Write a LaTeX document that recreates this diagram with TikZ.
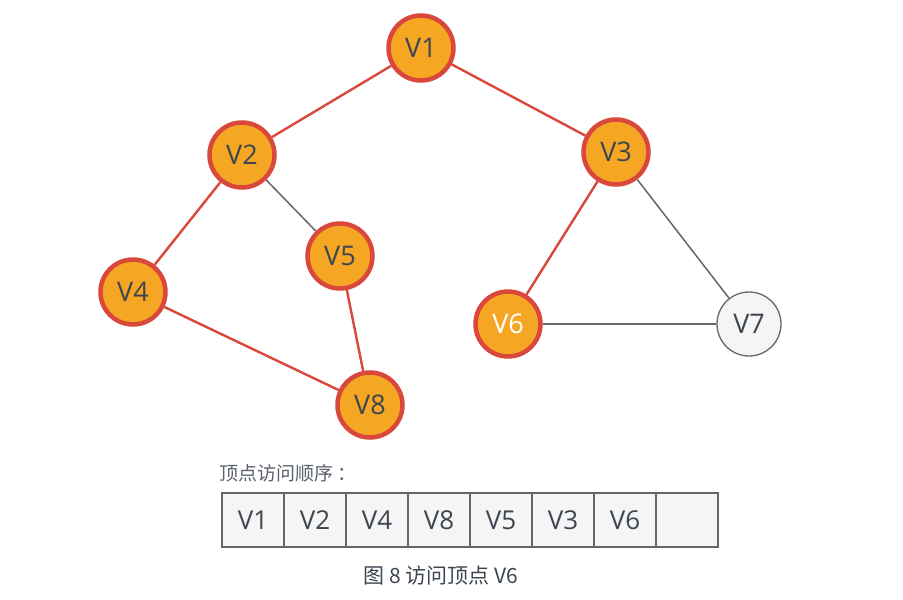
\documentclass[tikz,border=0pt]{standalone}
\usepackage{fontspec}
\setmainfont{Open Sans}
\newfontfamily\cjk{Noto Sans CJK SC}
\definecolor{vorange}{HTML}{F5A623}
\definecolor{vred}{HTML}{D9483B}
\definecolor{vtext}{HTML}{3E4650}
\definecolor{vgray}{HTML}{666666}
\definecolor{cellfill}{HTML}{F5F5F5}
\begin{document}
\begin{tikzpicture}[x=1pt,y=-1pt,
  visited/.style={circle,draw=vred,line width=4.5pt,fill=vorange,minimum size=65pt,inner sep=0pt,text=vtext,font=\fontsize{27}{31}\selectfont},
  unvisited/.style={circle,draw=vgray,line width=1.3pt,fill=cellfill,minimum size=64pt,inner sep=0pt,text=vtext,font=\fontsize{27}{31}\selectfont},
  redge/.style={draw=vred,line width=2.4pt},
  gedge/.style={draw=vgray,line width=1.5pt},
  cell/.style={draw=vgray,line width=1.3pt,fill=cellfill,minimum width=62pt,minimum height=54pt,inner sep=0pt,text=vtext,font=\fontsize{26}{30}\selectfont}
]
\useasboundingbox[fill=white] (0,0) rectangle (903,600);
\node[visited] (v1) at (421,48) {V1};
\node[visited] (v2) at (242,155) {V2};
\node[visited] (v3) at (616,152) {V3};
\node[visited] (v4) at (133,292) {V4};
\node[visited] (v5) at (340,256) {V5};
\node[visited,text=white] (v6) at (508,324) {V6};
\node[unvisited] (v7) at (749,324) {V7};
\node[visited] (v8) at (370,405) {V8};
\path[redge] (v1) -- (v2);
\path[redge] (v1) -- (v3);
\path[redge] (v2) -- (v4);
\path[gedge] (v2) -- (v5);
\path[redge] (v5) -- (v8);
\path[redge] (v4) -- (v8);
\path[redge] (v3) -- (v6);
\path[gedge] (v3) -- (v7);
\path[gedge] (v6) -- (v7);
\node[anchor=west,inner sep=0pt,text=vtext!85,font=\cjk\fontsize{19}{22}\selectfont] (lbl) at (219,473) {顶点访问顺序\hspace{4pt}：};
\node[cell] (c1) at (253,520) {V1};
\node[cell] (c2) at (315,520) {V2};
\node[cell] (c3) at (377,520) {V4};
\node[cell] (c4) at (439,520) {V8};
\node[cell] (c5) at (501,520) {V5};
\node[cell] (c6) at (563,520) {V3};
\node[cell] (c7) at (625,520) {V6};
\node[cell] (c8) at (687,520) {};
\node[inner sep=0pt,text=vtext,font=\cjk\fontsize{21}{24}\selectfont] (cap) at (441,576) {图 8 访问顶点 V6};
\end{tikzpicture}
\end{document}
